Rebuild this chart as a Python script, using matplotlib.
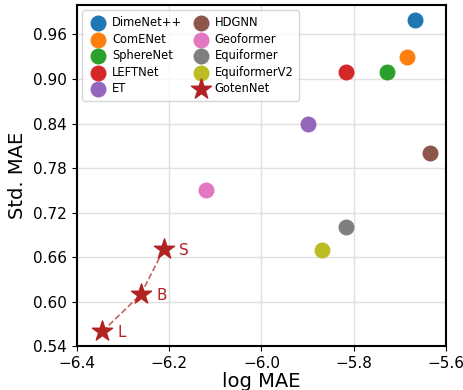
import matplotlib
matplotlib.use("Agg")
import matplotlib.pyplot as plt

# baseline models
models = ["DimeNet++", "ComENet", "SphereNet", "LEFTNet", "ET",
          "HDGNN", "Geoformer", "Equiformer", "EquiformerV2"]
log_mae = [-5.667, -5.686, -5.728, -5.817, -5.899, -5.636, -6.12, -5.817, -5.869]
std_mae = [0.979, 0.929, 0.909, 0.909, 0.84, 0.80, 0.75, 0.70, 0.67]
colors = ["tab:blue", "tab:orange", "tab:green", "tab:red", "tab:purple",
          "tab:brown", "tab:pink", "tab:gray", "tab:olive"]

# GotenNet variants
goten_sizes = ["L", "B", "S"]
goten_log = [-6.344, -6.261, -6.211]
goten_std = [0.56, 0.61, 0.671]
goten_color = "#b22222"

fig, ax = plt.subplots(figsize=(4.64, 3.9), dpi=100)

for m, x, y, c in zip(models, log_mae, std_mae, colors):
    ax.scatter(x, y, s=110, color=c, label=m, zorder=3)

ax.plot(goten_log, goten_std, "--", color=goten_color, alpha=0.7, lw=1.2, zorder=2)
ax.scatter(goten_log, goten_std, s=230, marker="*", color=goten_color,
           label="GotenNet", zorder=4)
for lab, x, y in zip(goten_sizes, goten_log, goten_std):
    ax.annotate(lab, (x, y), xytext=(11, -4), textcoords="offset points",
                color=goten_color, fontsize=11)

ax.set_xlim(-6.4, -5.6)
ax.set_ylim(0.54, 1.0)
ax.set_xticks([-6.4, -6.2, -6.0, -5.8, -5.6])
ax.set_yticks([0.54, 0.60, 0.66, 0.72, 0.78, 0.84, 0.90, 0.96])
ax.set_yticklabels(["%.2f" % v for v in [0.54, 0.60, 0.66, 0.72, 0.78, 0.84, 0.90, 0.96]])
ax.tick_params(labelsize=11)
ax.set_xlabel("log MAE", fontsize=14, labelpad=1)
ax.set_ylabel("Std. MAE", fontsize=14)
ax.grid(True, color="#e0e0e0", lw=1)
ax.set_axisbelow(True)
for sp in ax.spines.values():
    sp.set_linewidth(1.5)
    sp.set_color("black")

ax.legend(ncol=2, loc="upper left", fontsize=8.3, columnspacing=0.7,
          handletextpad=0.3, labelspacing=0.3, borderaxespad=0.5,
          borderpad=0.5, handlelength=1.8)

fig.subplots_adjust(left=0.165, right=0.962, top=0.988, bottom=0.112)
fig.savefig("out.png", dpi=100)
